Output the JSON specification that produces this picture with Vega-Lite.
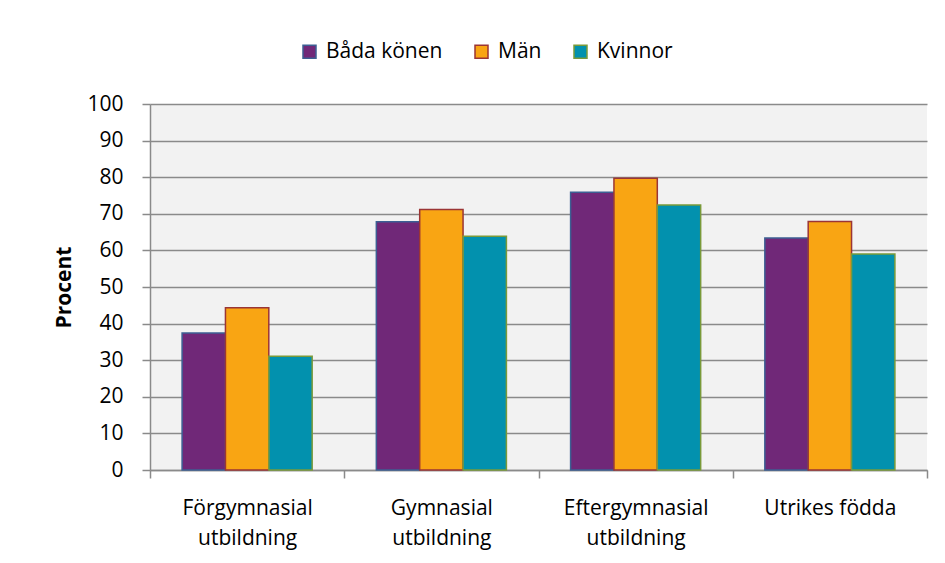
{
  "$schema": "https://vega.github.io/schema/vega-lite/v6.json",
  "width": 777,
  "height": 366,
  "autosize": "none",
  "padding": {"left": 150, "top": 104, "right": 18, "bottom": 93},
  "background": "white",
  "config": {
    "font": "Open Sans",
    "view": {"fill": "#F2F2F2", "stroke": null}
  },
  "data": {
    "values": [
      {"kategori": "Förgymnasial utbildning", "grupp": "Båda könen", "procent": 37.4},
      {"kategori": "Förgymnasial utbildning", "grupp": "Män", "procent": 44.3},
      {"kategori": "Förgymnasial utbildning", "grupp": "Kvinnor", "procent": 31.1},
      {"kategori": "Gymnasial utbildning", "grupp": "Båda könen", "procent": 67.8},
      {"kategori": "Gymnasial utbildning", "grupp": "Män", "procent": 71.2},
      {"kategori": "Gymnasial utbildning", "grupp": "Kvinnor", "procent": 63.9},
      {"kategori": "Eftergymnasial utbildning", "grupp": "Båda könen", "procent": 75.9},
      {"kategori": "Eftergymnasial utbildning", "grupp": "Män", "procent": 79.7},
      {"kategori": "Eftergymnasial utbildning", "grupp": "Kvinnor", "procent": 72.4},
      {"kategori": "Utrikes födda", "grupp": "Båda könen", "procent": 63.4},
      {"kategori": "Utrikes födda", "grupp": "Män", "procent": 67.9},
      {"kategori": "Utrikes födda", "grupp": "Kvinnor", "procent": 59.0}
    ]
  },
  "mark": {"type": "bar", "strokeWidth": 1.5},
  "encoding": {
    "x": {
      "field": "kategori",
      "type": "nominal",
      "sort": null,
      "scale": {"paddingInner": 0, "paddingOuter": 0},
      "axis": {
        "title": null,
        "labelAngle": 0,
        "tickBand": "extent",
        "domainColor": "#8a8a8a",
        "domainWidth": 1.5,
        "tickColor": "#8a8a8a",
        "tickWidth": 1.5,
        "tickSize": 8,
        "labelFontSize": 21,
        "labelColor": "#000000",
        "labelPadding": 19,
        "labelLineHeight": 30,
        "labelExpr": "datum.label == 'Utrikes födda' ? datum.label : split(datum.label, ' ')"
      }
    },
    "xOffset": {
      "field": "grupp",
      "type": "nominal",
      "sort": ["Båda könen", "Män", "Kvinnor"],
      "scale": {"paddingInner": 0, "paddingOuter": 0.74}
    },
    "y": {
      "field": "procent",
      "type": "quantitative",
      "scale": {"domain": [0, 100], "nice": false},
      "axis": {
        "values": [0, 10, 20, 30, 40, 50, 60, 70, 80, 90, 100],
        "title": "Procent",
        "titleFontSize": 21,
        "titleFontWeight": "bold",
        "titleColor": "#000000",
        "titlePadding": 12,
        "labelFontSize": 21,
        "labelColor": "#000000",
        "labelPadding": 19,
        "tickSize": 8,
        "tickColor": "#8a8a8a",
        "tickWidth": 1.5,
        "domainColor": "#8a8a8a",
        "domainWidth": 1.5,
        "gridColor": "#8a8a8a",
        "gridWidth": 1.5
      }
    },
    "color": {
      "field": "grupp",
      "type": "nominal",
      "sort": ["Båda könen", "Män", "Kvinnor"],
      "scale": {"domain": ["Båda könen", "Män", "Kvinnor"], "range": ["#702878", "#F9A513", "#0291AE"]},
      "legend": {
        "title": null,
        "orient": "none",
        "direction": "horizontal",
        "legendX": 149,
        "legendY": -63,
        "symbolType": "square",
        "symbolSize": 169,
        "symbolStrokeWidth": 1.5,
        "labelFontSize": 21,
        "labelColor": "#000000",
        "labelOffset": 6,
        "columnPadding": 28
      }
    },
    "stroke": {
      "field": "grupp",
      "type": "nominal",
      "sort": ["Båda könen", "Män", "Kvinnor"],
      "scale": {"domain": ["Båda könen", "Män", "Kvinnor"], "range": ["#3C5F93", "#9B3535", "#7A9A3A"]},
      "legend": {
        "title": null,
        "orient": "none",
        "direction": "horizontal",
        "legendX": 149,
        "legendY": -63,
        "symbolType": "square",
        "symbolSize": 169,
        "symbolStrokeWidth": 1.5,
        "labelFontSize": 21,
        "labelColor": "#000000",
        "labelOffset": 6,
        "columnPadding": 28
      }
    }
  }
}
